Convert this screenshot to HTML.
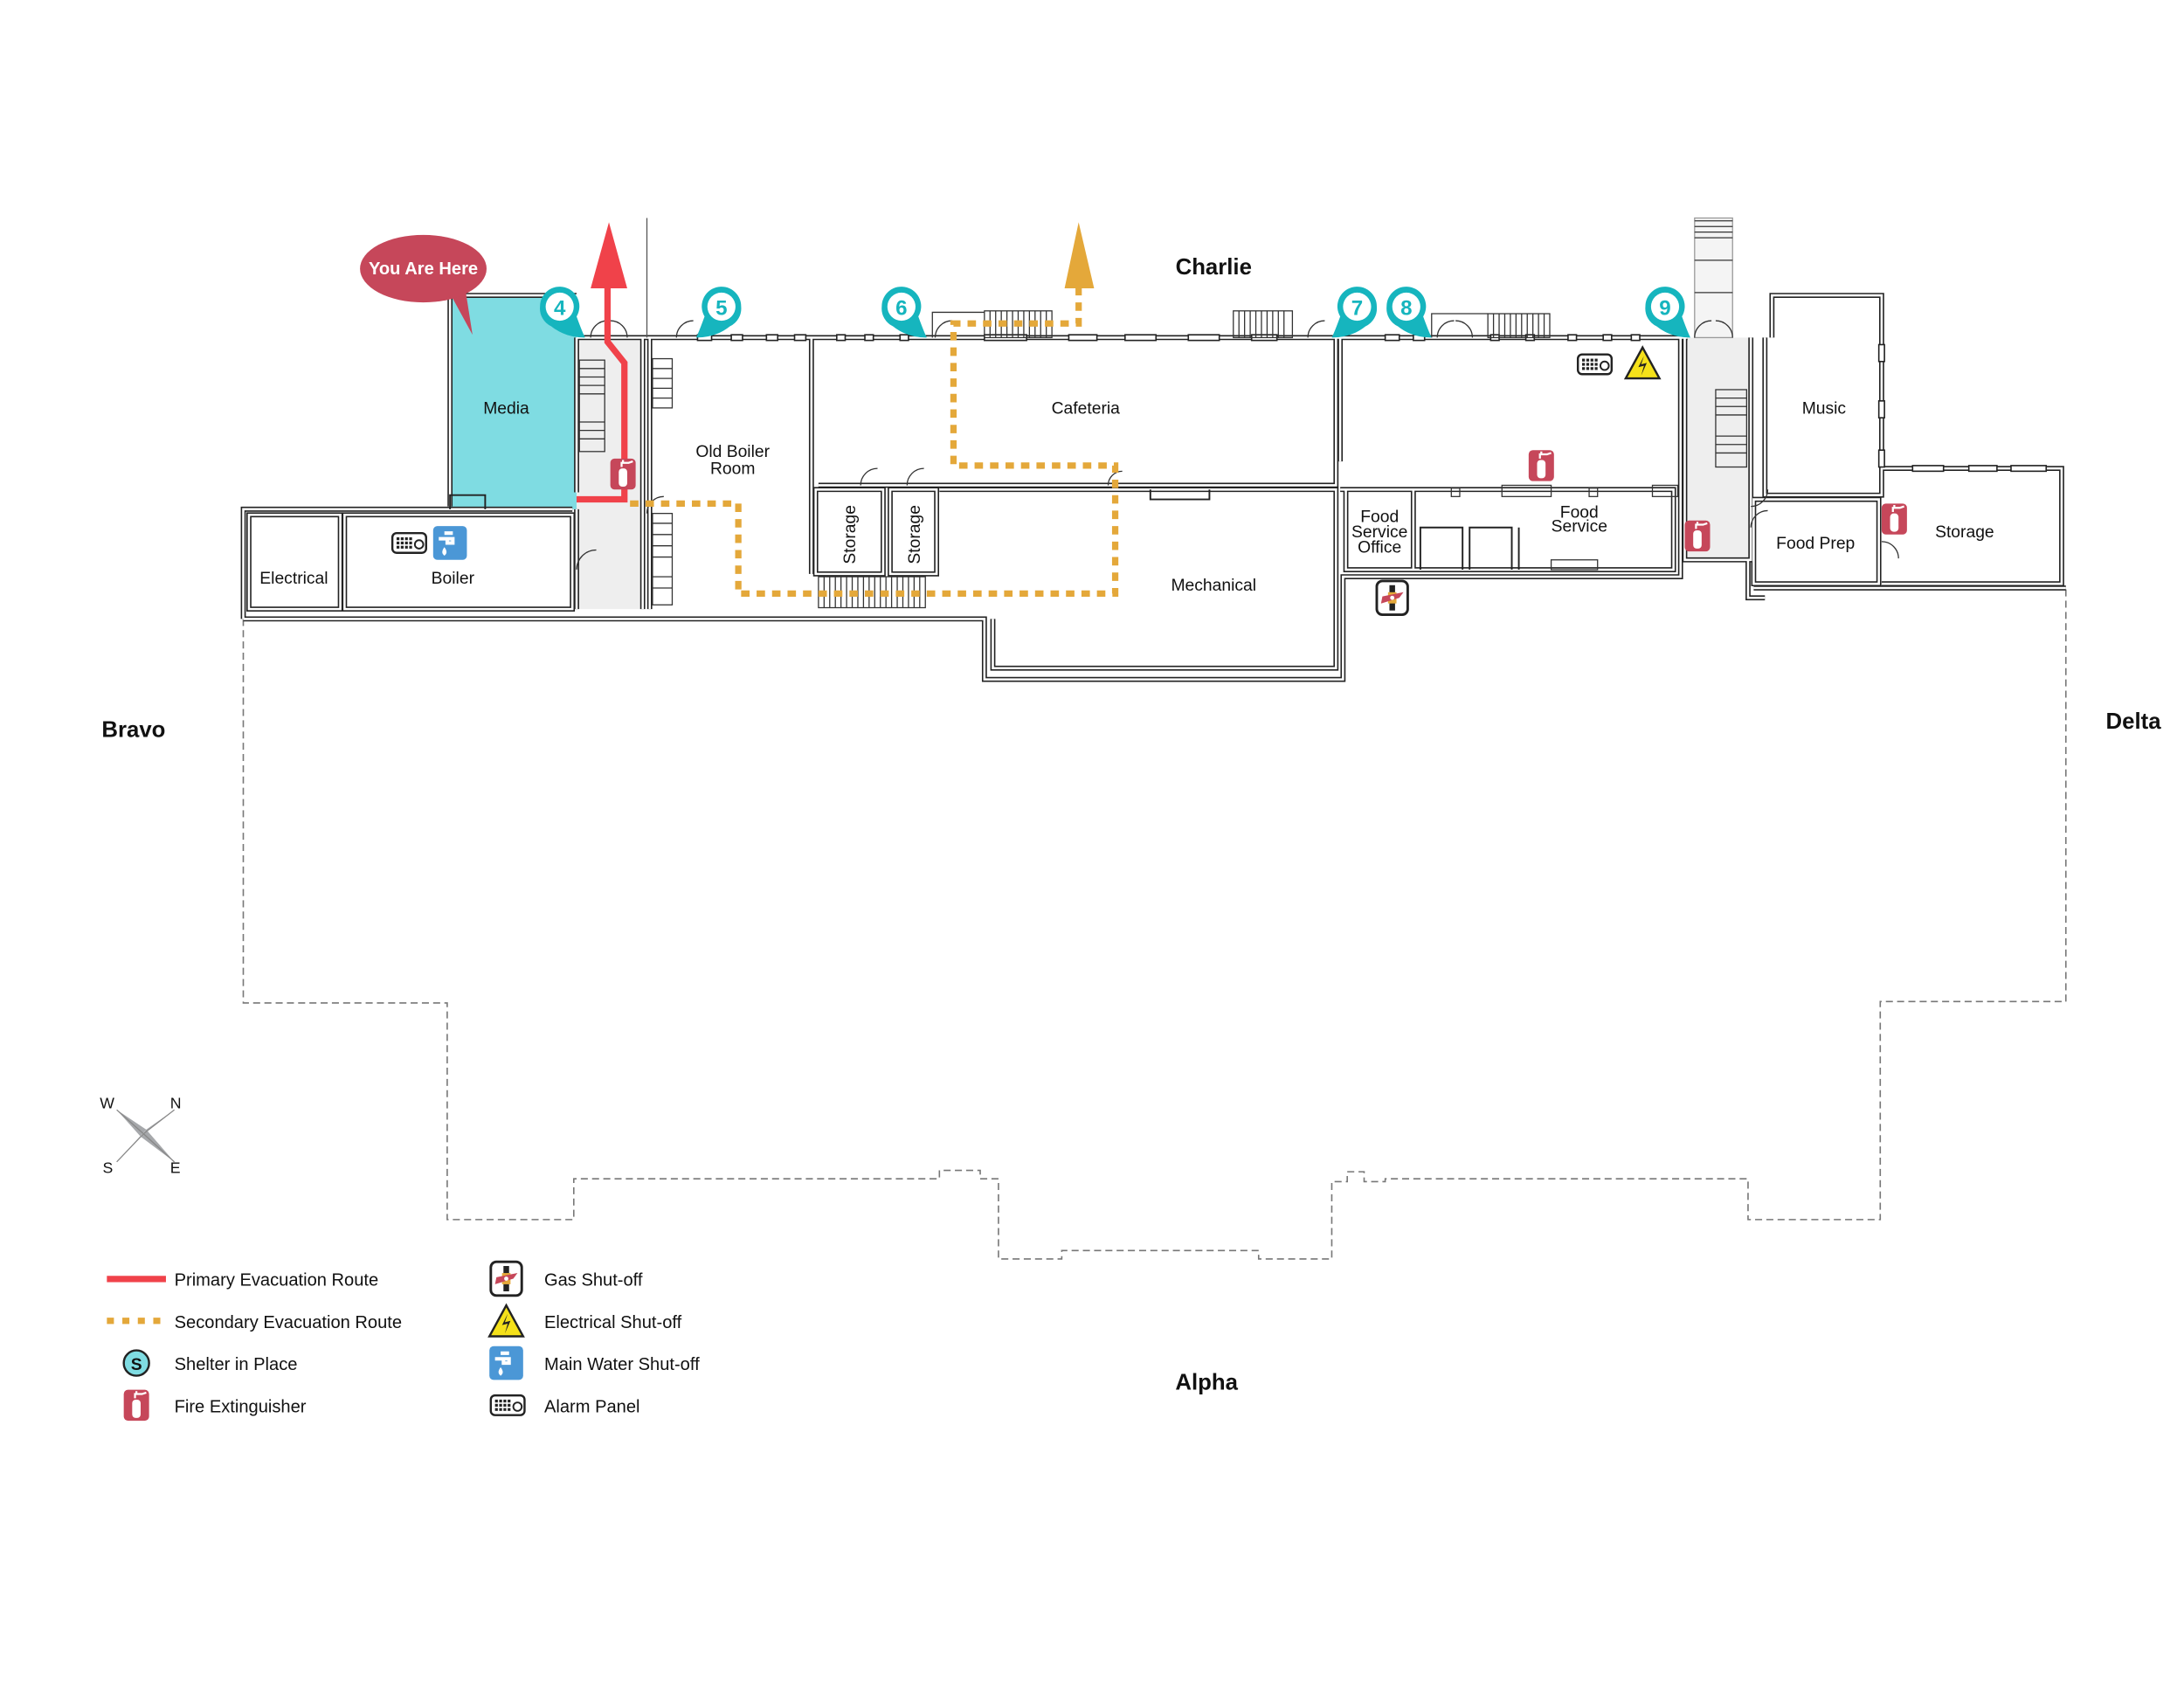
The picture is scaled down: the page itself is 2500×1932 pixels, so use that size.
<!DOCTYPE html>
<html><head><meta charset="utf-8"><style>
html,body{margin:0;padding:0;background:#fff;}
svg{display:block;}
text{font-family:"Liberation Sans",Arial,sans-serif;}
</style></head><body>
<svg width="2500" height="1932" viewBox="0 0 1553 1200" preserveAspectRatio="none" xmlns="http://www.w3.org/2000/svg">
<defs>
<g id="ext"><rect x="-9" y="-11" width="18" height="22" rx="3" fill="#c6475a"/><rect x="-3" y="-4" width="6" height="13" rx="2.5" fill="#fff"/><path d="M-1,-5 v-3 h5 l3,-1 M0,-8 v-2" stroke="#fff" stroke-width="1.4" fill="none"/></g>
<g id="alarm"><rect x="-12" y="-7" width="24" height="14" rx="3" fill="#fff" stroke="#222" stroke-width="1.5"/><g fill="#222"><rect x="-9" y="-4" width="2" height="2"/><rect x="-6" y="-4" width="2" height="2"/><rect x="-3" y="-4" width="2" height="2"/><rect x="0" y="-4" width="2" height="2"/><rect x="-9" y="-1" width="2" height="2"/><rect x="-6" y="-1" width="2" height="2"/><rect x="-3" y="-1" width="2" height="2"/><rect x="0" y="-1" width="2" height="2"/><rect x="-9" y="2" width="2" height="2"/><rect x="-6" y="2" width="2" height="2"/><rect x="-3" y="2" width="2" height="2"/><rect x="0" y="2" width="2" height="2"/></g><circle cx="7" cy="1" r="3" fill="none" stroke="#222" stroke-width="1.2"/></g>
<g id="water"><rect x="-12" y="-12" width="24" height="24" rx="3" fill="#4b97d6"/><path d="M-8,-3 h10 v3 h-4 v-3 M-4,-7 h6" stroke="#fff" stroke-width="2.5" fill="none"/><path d="M-4,3 q-3,4 0,6 q3,-2 0,-6z" fill="#fff"/></g>
<g id="elec"><path d="M0,-12 L12,10 L-12,10Z" fill="#f5e11a" stroke="#222" stroke-width="1.5"/><path d="M1,-6 L-3,2 L1,1 L-1,8 L3,-1 L-1,0Z" fill="#222"/></g>
<g id="gas"><rect x="-11" y="-12" width="22" height="24" rx="4" fill="#fff" stroke="#222" stroke-width="1.8"/><rect x="-2" y="-9" width="4" height="18" fill="#222"/><rect x="-3" y="-4" width="6" height="8" fill="#e4a83a"/><path d="M-8,4 L-7,-1 L8,-4 L5,0Z" fill="#c6475a"/><circle cx="0" cy="0" r="1.5" fill="#fff"/></g>
<g id="pinR"><path d="M-14,0 A14,14 0 1 1 12,7 Q16,18 18,22 Q4,22 -6,14 A14,14 0 0 1 -14,0Z" fill="#16b5be"/><circle cx="0" cy="0" r="10" fill="#fff"/></g>
<g id="pinL"><path d="M14,0 A14,14 0 1 0 -12,7 Q-16,18 -18,22 Q-4,22 6,14 A14,14 0 0 0 14,0Z" fill="#16b5be"/><circle cx="0" cy="0" r="10" fill="#fff"/></g>
<g id="walls">
<path d="M320,360 V210 H410"/>
<path d="M173,440 V362 H407 M173,440 H700 V483 H955 V410 H1195 V240"/>
<path d="M410,240 H1200"/>
<path d="M410,240 V350"/>
<path d="M410,362 V433"/>
<path d="M457,240 V433"/>
<path d="M462,240 V433"/>
<path d="M177,366 H242 V433 H177Z"/>
<path d="M245,366 H407 V433 H245Z"/>
<path d="M577,240 V408"/>
<path d="M580,348 H628 V408 H580Z"/>
<path d="M633,348 H666 V408 H633Z"/>
<path d="M582,345 H950 V240"/>
<path d="M668,348 H950 V475 H706 V440"/>
<path d="M953,240 V328"/>
<path d="M953,348 H1190 V405 H957 V348"/>
<path d="M1005,348 V405"/>
<path d="M1245,240 V398 H1198 V240"/>
<path d="M1255,240 V352 H1338 V210 H1260 V240"/>
<path d="M1247,355 H1336 V415 H1247Z"/>
<path d="M1338,333 H1466 V415 H1338"/>
<path d="M1247,418 H1469"/>
<path d="M1243,398 V425 H1255"/>
</g>
</defs>

<!-- dashed outline -->
<path d="M173,440 V713 H318 V867 H408 V838 H668 V832 H697 V838 H710 V895 H755 V889 H895 V895 H947 V840 H958 V833 H970 V840 H985 V838 H1243 V867 H1337 V712 H1469 V418" fill="none" stroke="#777" stroke-width="1" stroke-dasharray="5,3"/>

<!-- fills -->
<rect x="320" y="210" width="90" height="152" fill="#7fdce2"/>
<rect x="410" y="240" width="47" height="193" fill="#eeeeee"/>
<rect x="1198" y="240" width="47" height="158" fill="#eeeeee"/>
<rect x="1205" y="155" width="27" height="85" fill="#f4f4f4" stroke="#999" stroke-width="0.8"/>
<g stroke="#333" stroke-width="0.8"><line x1="1205" y1="157" x2="1232" y2="157"/><line x1="1205" y1="161" x2="1232" y2="161"/><line x1="1205" y1="165" x2="1232" y2="165"/><line x1="1205" y1="169" x2="1232" y2="169"/><line x1="1205" y1="185" x2="1232" y2="185"/><line x1="1205" y1="208" x2="1232" y2="208"/></g>

<!-- walls: double line -->
<use href="#walls" fill="none" stroke="#222" stroke-width="3.6"/>
<use href="#walls" fill="none" stroke="#fff" stroke-width="1.6"/>

<!-- window marks on top wall -->
<g fill="#fff" stroke="#222" stroke-width="1">
<rect x="496" y="238" width="10" height="4"/><rect x="520" y="238" width="8" height="4"/><rect x="545" y="238" width="8" height="4"/><rect x="565" y="238" width="8" height="4"/><rect x="595" y="238" width="6" height="4"/><rect x="615" y="238" width="6" height="4"/><rect x="640" y="238" width="6" height="4"/>
<rect x="700" y="238" width="30" height="4"/><rect x="760" y="238" width="20" height="4"/><rect x="800" y="238" width="22" height="4"/><rect x="845" y="238" width="22" height="4"/><rect x="890" y="238" width="18" height="4"/>
<rect x="985" y="238" width="10" height="4"/><rect x="1005" y="238" width="8" height="4"/><rect x="1060" y="238" width="6" height="4"/><rect x="1085" y="238" width="6" height="4"/><rect x="1115" y="238" width="6" height="4"/><rect x="1140" y="238" width="6" height="4"/><rect x="1160" y="238" width="6" height="4"/>
<rect x="1360" y="331" width="22" height="4"/><rect x="1400" y="331" width="20" height="4"/><rect x="1430" y="331" width="25" height="4"/>
<rect x="1336" y="245" width="4" height="12"/><rect x="1336" y="285" width="4" height="12"/><rect x="1336" y="320" width="4" height="12"/>
</g>
<!-- stair bits -->
<g stroke="#333" stroke-width="0.8" fill="none">
<rect x="412" y="256" width="18" height="65"/><path d="M412,262 H430 M412,268 H430 M412,274 H430 M412,280 H430 M412,300 H430 M412,306 H430 M412,312 H430"/>
<rect x="464" y="255" width="14" height="35"/><path d="M464,262 H478 M464,269 H478 M464,276 H478 M464,283 H478"/>
<rect x="464" y="365" width="14" height="65"/><path d="M464,372 H478 M464,380 H478 M464,388 H478 M464,396 H478 M464,410 H478 M464,418 H478"/>
<rect x="1220" y="277" width="22" height="55"/><path d="M1220,283 H1242 M1220,289 H1242 M1220,295 H1242 M1220,310 H1242 M1220,316 H1242 M1220,322 H1242"/>
<rect x="700" y="221" width="48" height="19"/><path d="M704,221 V240 M708,221 V240 M712,221 V240 M716,221 V240 M720,221 V240 M724,221 V240 M728,221 V240 M732,221 V240 M736,221 V240 M740,221 V240 M744,221 V240"/>
<rect x="877" y="221" width="42" height="19"/><path d="M881,221 V240 M885,221 V240 M889,221 V240 M893,221 V240 M897,221 V240 M901,221 V240 M905,221 V240 M909,221 V240 M913,221 V240"/>
<rect x="1058" y="223" width="44" height="17"/><path d="M1062,223 V240 M1066,223 V240 M1070,223 V240 M1074,223 V240 M1078,223 V240 M1082,223 V240 M1086,223 V240 M1090,223 V240 M1094,223 V240 M1098,223 V240"/>
<rect x="582" y="410" width="76" height="22"/><path d="M586,410 V432 M590,410 V432 M594,410 V432 M598,410 V432 M602,410 V432 M606,410 V432 M610,410 V432 M614,410 V432 M618,410 V432 M622,410 V432 M626,410 V432 M630,410 V432 M634,410 V432 M638,410 V432 M642,410 V432 M646,410 V432 M650,410 V432 M654,410 V432"/>
<path d="M663,240 V222 H700"/>
<path d="M1018,240 V223 H1058"/>
<path d="M460,155 V240" stroke="#555"/>
<path d="M420,240 A12,12 0 0 1 432,228 M446,240 A12,12 0 0 0 434,228 M481,240 A12,12 0 0 1 493,228 M665,240 A12,12 0 0 1 677,228 M930,240 A12,12 0 0 1 942,228 M1022,240 A12,12 0 0 1 1034,228 M1047,240 A12,12 0 0 0 1035,228 M1205,240 A12,12 0 0 1 1217,228 M1232,240 A12,12 0 0 0 1220,228"/>
<path d="M410,405 A14,14 0 0 1 424,391 M460,365 A12,12 0 0 1 472,353 M612,345 A12,12 0 0 1 624,333 M645,345 A12,12 0 0 1 657,333 M788,345 A10,10 0 0 1 798,335 M1245,360 A12,12 0 0 0 1257,348 M1245,375 A12,12 0 0 1 1257,363 M1338,385 A12,12 0 0 1 1350,397"/>
<rect x="1068" y="345" width="35" height="8"/><rect x="1032" y="347" width="6" height="6"/><rect x="1130" y="347" width="6" height="6"/><rect x="1175" y="345" width="18" height="8"/>
<path d="M1010,405 V375 H1040 V405 M1045,405 V375 H1075 V405 M1080,405 V375" stroke="#222" stroke-width="1.2"/>
<rect x="1103" y="398" width="33" height="7"/>
<path d="M818,348 V355 H860 V348" stroke="#222" stroke-width="1.2"/>
<path d="M320,362 V352 H345 V362" stroke="#222" stroke-width="1.2"/>
</g>

<!-- secondary route -->
<path d="M448,358 H525 V422 H793 V331 H678 V230 H767 V205" fill="none" stroke="#e4a83a" stroke-width="4.5" stroke-dasharray="6,5"/>
<path d="M767,158 L757,205 H778Z" fill="#e4a83a"/>
<!-- primary route -->
<path d="M410,355 H444 V258 L432,243 V205" fill="none" stroke="#f0424a" stroke-width="4.5"/>
<path d="M433,158 L420,205 H446Z" fill="#f0424a"/>

<!-- You are here -->
<path d="M318,205 L336,238 L330,200Z" fill="#c6475a"/>
<ellipse cx="301" cy="191" rx="45" ry="24" fill="#c6475a"/>
<text x="301" y="195" font-size="12.5" fill="#fff" text-anchor="middle" font-weight="bold">You Are Here</text>

<!-- pins -->
<g font-size="15" font-weight="bold" fill="#16b5be" text-anchor="middle">
<use href="#pinR" x="398" y="218"/><text x="398" y="224">4</text>
<use href="#pinL" x="513" y="218"/><text x="513" y="224">5</text>
<use href="#pinR" x="641" y="218"/><text x="641" y="224">6</text>
<use href="#pinL" x="965" y="218"/><text x="965" y="224">7</text>
<use href="#pinR" x="1000" y="218"/><text x="1000" y="224">8</text>
<use href="#pinR" x="1184" y="218"/><text x="1184" y="224">9</text>
</g>

<!-- icons -->
<use href="#ext" x="443" y="337"/><use href="#ext" x="1096" y="331"/><use href="#ext" x="1207" y="381"/><use href="#ext" x="1347" y="369"/>
<use href="#alarm" x="291" y="386"/><use href="#alarm" x="1134" y="259"/>
<use href="#water" x="320" y="386"/>
<use href="#elec" x="1168" y="259"/>
<use href="#gas" x="990" y="425"/>

<!-- room labels -->
<g font-size="12" fill="#111" text-anchor="middle">
<text x="360" y="294">Media</text>
<text x="209" y="415">Electrical</text>
<text x="322" y="415">Boiler</text>
<text x="521" y="325">Old Boiler</text><text x="521" y="337">Room</text>
<text x="772" y="294">Cafeteria</text>
<text x="863" y="420">Mechanical</text>
<text x="981" y="371">Food</text><text x="981" y="382">Service</text><text x="981" y="393">Office</text>
<text x="1123" y="368">Food</text><text x="1123" y="378">Service</text>
<text x="1297" y="294">Music</text>
<text x="1291" y="390">Food Prep</text>
<text x="1397" y="382">Storage</text>
<text transform="translate(608,380) rotate(-90)">Storage</text>
<text transform="translate(654,380) rotate(-90)">Storage</text>
</g>
<g font-size="16" font-weight="bold" fill="#111" text-anchor="middle">
<text x="863" y="195">Charlie</text><text x="95" y="524">Bravo</text><text x="1517" y="518">Delta</text><text x="858" y="988">Alpha</text>
</g>

<!-- compass -->
<path d="M83,789 L104,803 L100,808Z M124,789 L104,803 L100,808Z M83,826 L100,808 L104,803Z M124,826 L104,803 L100,808Z" fill="#a6a8ab"/>
<path d="M83,789 L102,806 M124,789 L102,806 M83,826 L102,806 M124,826 L102,806" stroke="#888" stroke-width="0.8"/>
<g font-size="11" fill="#111"><text x="71" y="788">W</text><text x="121" y="788">N</text><text x="73" y="834">S</text><text x="121" y="834">E</text></g>

<!-- legend -->
<rect x="76" y="907" width="42" height="4.5" fill="#f0424a"/>
<path d="M76,939 H118" stroke="#e4a83a" stroke-width="4.5" stroke-dasharray="5,6"/>
<circle cx="97" cy="969" r="9" fill="#7fdce2" stroke="#222" stroke-width="1.5"/><text x="97" y="974" font-size="12" font-weight="bold" text-anchor="middle" fill="#111">S</text>
<use href="#ext" x="97" y="999"/>
<use href="#gas" x="360" y="909"/><use href="#elec" x="360" y="940"/><use href="#water" x="360" y="969"/><use href="#alarm" x="361" y="999"/>
<g font-size="12.5" fill="#111">
<text x="124" y="914">Primary Evacuation Route</text>
<text x="124" y="944">Secondary Evacuation Route</text>
<text x="124" y="974">Shelter in Place</text>
<text x="124" y="1004">Fire Extinguisher</text>
<text x="387" y="914">Gas Shut-off</text>
<text x="387" y="944">Electrical Shut-off</text>
<text x="387" y="974">Main Water Shut-off</text>
<text x="387" y="1004">Alarm Panel</text>
</g>
</svg>
</body></html>
